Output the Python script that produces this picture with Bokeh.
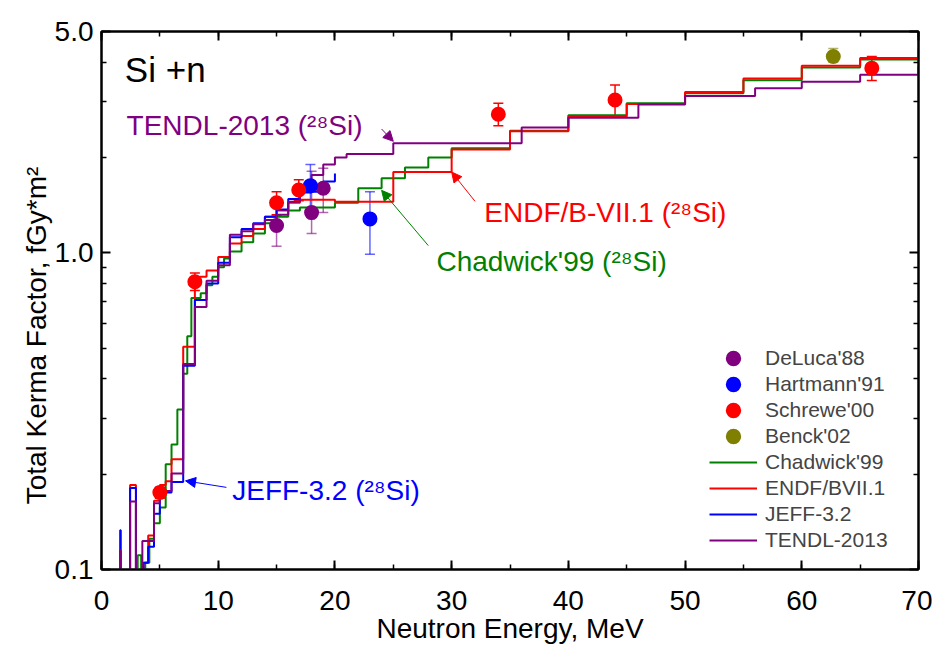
from bokeh.plotting import figure
from bokeh.models import (ColumnDataSource, Whisker, TeeHead, Arrow, NormalHead, Label,
                          Legend, LegendItem, FixedTicker, SingleIntervalTicker, LinearAxis,
                          LogAxis, PrintfTickFormatter, CustomJSTickFormatter, Range1d)
from bokeh.embed import file_html
from bokeh.resources import INLINE

FONT = "Liberation Sans"

# ---------------- data ----------------
# Step curves: left energy edge (MeV) and kerma factor (fGy*m^2) on that bin
tendl_e = [1.0, 1.6, 1.65, 2.45, 2.95, 3.5, 4.5, 5.0, 6.0, 7.0, 8.0, 9.0, 10.0, 11.0, 12.0,
           13.0, 14.0, 15.0, 16.0, 17.0, 18.0, 19.0, 20.0, 21.0, 25.0, 36.0, 40.0, 46.0,
           50.0, 56.0, 60.0, 65.0, 70.0]
tendl_v = [0.05, 0.115, 0.05, 0.164, 0.05, 0.123, 0.162, 0.177, 0.201, 0.446, 0.675, 0.816,
           0.913, 1.14, 1.17, 1.23, 1.27, 1.32, 1.45, 1.62, 1.76, 1.90, 2.00, 2.05, 2.22,
           2.49, 2.67, 2.94, 3.13, 3.31, 3.47, 3.65, 3.88]

jeff_e = [1.0, 1.6, 1.65, 2.45, 2.95, 3.6, 4.0, 4.5, 5.0, 6.0, 7.0, 8.0, 9.0, 10.0, 11.0,
          12.0, 13.0, 14.0, 15.0, 16.0, 17.0, 18.0, 19.0, 20.0]
jeff_v = [0.05, 0.133, 0.05, 0.181, 0.05, 0.105, 0.118, 0.150, 0.175, 0.189, 0.44, 0.71,
          0.80, 0.93, 1.12, 1.19, 1.24, 1.30, 1.37, 1.48, 1.55, 1.56, 1.68, 1.78]

endf_e = [1.0, 2.45, 2.95, 3.6, 4.0, 4.5, 5.0, 5.5, 6.0, 7.0, 8.0, 9.0, 10.0, 11.0, 12.0,
          13.0, 14.0, 15.0, 16.0, 17.0, 20.0, 25.0, 30.0, 35.0, 40.0, 45.0, 50.0, 55.0,
          60.0, 65.0, 70.0]
endf_v = [0.05, 0.185, 0.05, 0.105, 0.128, 0.165, 0.185, 0.19, 0.223, 0.505, 0.84, 0.88,
          0.97, 1.07, 1.13, 1.19, 1.30, 1.36, 1.44, 1.47, 1.45, 1.80, 2.12, 2.42, 2.69,
          2.95, 3.22, 3.55, 3.90, 4.12, 4.42]

chad_e = [1.0, 3.1, 3.4, 3.75, 4.1, 4.5, 5.0, 5.5, 6.0, 6.5, 7.0, 7.35, 7.7, 8.5, 9.0, 9.5,
          10.0, 10.5, 11.0, 12.0, 13.0, 14.0, 15.0, 16.0, 17.0, 20.0, 22.0, 24.0, 26.0,
          28.0, 30.0, 35.0, 40.0, 45.0, 50.0, 55.0, 60.0, 65.0, 70.0]
chad_v = [0.05, 0.111, 0.05, 0.105, 0.125, 0.14, 0.157, 0.215, 0.248, 0.32, 0.415, 0.545,
          0.72, 0.745, 0.79, 0.84, 0.90, 0.96, 1.01, 1.08, 1.15, 1.24, 1.30, 1.36, 1.39,
          1.44, 1.60, 1.72, 1.86, 2.00, 2.14, 2.43, 2.72, 2.97, 3.19, 3.51, 3.85, 4.08, 4.08]

# Experimental points: energy, value, lower, upper
deluca_e = [15.0, 18.0, 19.0]
deluca_v = [1.22, 1.34, 1.60]
deluca_lo = [1.05, 1.15, 1.34]
deluca_hi = [1.31, 1.81, 1.85]

hart_e = [17.9, 23.0]
hart_v = [1.63, 1.28]
hart_lo = [1.37, 0.99]
hart_hi = [1.90, 1.56]

schrewe_e = [5.0, 8.0, 15.0, 16.9, 34.0, 44.0, 66.0]
schrewe_v = [0.175, 0.81, 1.44, 1.58, 2.74, 3.04, 3.83]
schrewe_lo = [0.168, 0.76, 1.32, 1.46, 2.52, 2.71, 3.50]
schrewe_hi = [0.182, 0.864, 1.56, 1.70, 2.97, 3.39, 4.17]

benck_e = [62.7]
benck_v = [4.17]
benck_lo = [4.0]
benck_hi = [4.42]

y_major = [0.1, 1.0, 5.0]
y_minor = [0.2, 0.3, 0.4, 0.5, 0.6, 0.7, 0.8, 0.9, 2.0, 3.0, 4.0]

GREEN = "#008000"
RED = "#ff0000"
BLUE = "#0000ff"
PURPLE = "#800080"
OLIVE = "#808000"

# ---------------- figure ----------------
p = figure(width=932, height=646, x_range=Range1d(0, 70), y_range=Range1d(0.1, 5.0),
           y_axis_type="log", output_backend="svg", toolbar_location=None,
           min_border_left=101, min_border_right=14, min_border_top=31, min_border_bottom=71)
p.xgrid.visible = False
p.ygrid.visible = False
p.outline_line_color = "black"
p.outline_line_width = 2
p.background_fill_color = "white"
p.border_fill_color = "white"

xt = SingleIntervalTicker(interval=10, num_minor_ticks=2)
yt = FixedTicker(ticks=y_major, minor_ticks=y_minor)


def style_axis(ax, labels=True):
    ax.axis_line_width = 2
    ax.major_tick_line_width = 2
    ax.minor_tick_line_width = 1.5
    ax.major_tick_in = 9
    ax.major_tick_out = 0
    ax.minor_tick_in = 5
    ax.minor_tick_out = 0
    ax.major_label_text_font = FONT
    ax.axis_label_text_font = FONT
    ax.axis_label_text_font_style = "normal"
    ax.major_label_text_color = "black"
    ax.axis_label_text_color = "black"
    if labels:
        ax.major_label_text_font_size = "28px"
        ax.axis_label_text_font_size = "28px"
    else:
        ax.formatter = CustomJSTickFormatter(code="return ''")
        ax.major_label_text_font_size = "10px"
        ax.major_label_standoff = 0


p.xaxis.ticker = xt
p.yaxis.ticker = yt
p.yaxis.formatter = PrintfTickFormatter(format="%.1f")
p.xaxis.axis_label = "Neutron Energy, MeV"
p.yaxis.axis_label = "Total Kerma Factor,  fGy*m\u00b2" + "\u00a0" * 8
style_axis(p.xaxis[0])
style_axis(p.yaxis[0])
p.xaxis.major_label_standoff = 21
p.xaxis.axis_label_standoff = 0
p.yaxis.major_label_standoff = 8
p.yaxis.axis_label_standoff = 0

top = LinearAxis(ticker=xt)
style_axis(top, labels=False)
p.add_layout(top, "above")
right = LogAxis(ticker=yt)
style_axis(right, labels=False)
p.add_layout(right, "right")

# ---------------- step curves ----------------
r_chad = p.step(chad_e, chad_v, mode="after", line_color=GREEN, line_width=2)
r_endf = p.step(endf_e, endf_v, mode="after", line_color=RED, line_width=2)
r_jeff = p.step(jeff_e, jeff_v, mode="after", line_color=BLUE, line_width=2)
r_tendl = p.step(tendl_e, tendl_v, mode="after", line_color=PURPLE, line_width=2)


# ---------------- experimental points ----------------
def points(e, v, lo, hi, color, err_alpha):
    src = ColumnDataSource(dict(x=e, y=v, lo=lo, hi=hi))
    w = Whisker(base="x", upper="hi", lower="lo", source=src, dimension="height",
                line_color=color, line_alpha=err_alpha, line_width=1.5,
                upper_head=TeeHead(size=10, line_color=color, line_alpha=err_alpha, line_width=1.5),
                lower_head=TeeHead(size=10, line_color=color, line_alpha=err_alpha, line_width=1.5))
    p.add_layout(w)
    # size + stroke width gives a ~15 px dot (also in the legend)
    return p.scatter("x", "y", source=src, size=10, marker="circle", line_width=5,
                     fill_color=color, line_color=color)


r_deluca = points(deluca_e, deluca_v, deluca_lo, deluca_hi, PURPLE, 0.6)
r_hart = points(hart_e, hart_v, hart_lo, hart_hi, BLUE, 0.6)
r_schrewe = points(schrewe_e, schrewe_v, schrewe_lo, schrewe_hi, RED, 1.0)
r_benck = points(benck_e, benck_v, benck_lo, benck_hi, OLIVE, 0.6)

# ---------------- annotations ----------------
SUP = "\u00b2\u2078"
p.add_layout(Label(x=2.0, y=3.8, text="Si +n", text_font=FONT, text_font_size="35px",
                   text_baseline="middle", text_color="black"))
p.add_layout(Label(x=2.15, y=2.52, text="TENDL-2013 (" + SUP + "Si)", text_font=FONT,
                   text_font_size="28px", text_baseline="middle", text_color=PURPLE))
p.add_layout(Label(x=32.8, y=1.34, text="ENDF/B-VII.1 (" + SUP + "Si)", text_font=FONT,
                   text_font_size="28px", text_baseline="middle", text_color=RED))
p.add_layout(Label(x=28.7, y=0.937, text="Chadwick'99 (" + SUP + "Si)", text_font=FONT,
                   text_font_size="28px", text_baseline="middle", text_color=GREEN))
p.add_layout(Label(x=11.2, y=0.1775, text="JEFF-3.2 (" + SUP + "Si)", text_font=FONT,
                   text_font_size="28px", text_baseline="middle", text_color=BLUE))


def arrow(xs, ys, xe, ye, color):
    p.add_layout(Arrow(end=NormalHead(size=10, fill_color=color, line_color=color, line_width=1),
                       x_start=xs, y_start=ys, x_end=xe, y_end=ye,
                       line_color=color, line_width=1))


arrow(24.0, 2.46, 25.0, 2.25, PURPLE)
arrow(32.0, 1.455, 30.0, 1.80, RED)
arrow(28.0, 1.054, 24.0, 1.575, GREEN)
arrow(10.7, 0.1817, 7.2, 0.1905, BLUE)

# ---------------- legend ----------------
legend = Legend(items=[
    LegendItem(label="DeLuca'88", renderers=[r_deluca]),
    LegendItem(label="Hartmann'91", renderers=[r_hart]),
    LegendItem(label="Schrewe'00", renderers=[r_schrewe]),
    LegendItem(label="Benck'02", renderers=[r_benck]),
    LegendItem(label="Chadwick'99", renderers=[r_chad]),
    LegendItem(label="ENDF/BVII.1", renderers=[r_endf]),
    LegendItem(label="JEFF-3.2", renderers=[r_jeff]),
    LegendItem(label="TENDL-2013", renderers=[r_tendl]),
], location=(608, 16), label_text_font=FONT, label_text_font_size="21px",
    glyph_width=48, glyph_height=26, label_height=20, spacing=0, padding=0, margin=0,
    label_standoff=8, border_line_alpha=0, background_fill_alpha=0)
p.add_layout(legend)

open("out.html", "w").write(file_html(p, INLINE))
